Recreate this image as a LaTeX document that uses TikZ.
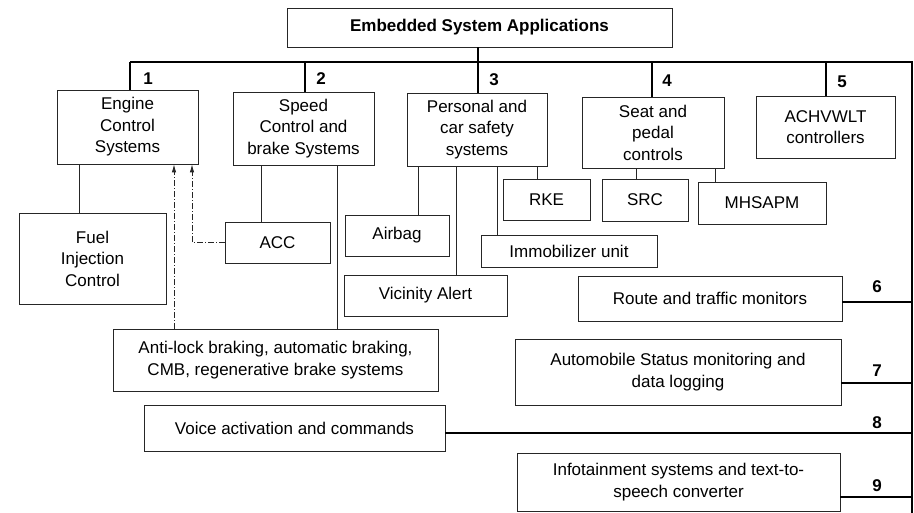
\documentclass[tikz,border=0pt]{standalone}
\usepackage{fontspec}
\setmainfont{Liberation Sans}
\usetikzlibrary{arrows.meta}
\begin{document}
\begin{tikzpicture}[x=1pt,y=-1pt,
  box/.style={draw=black!85,line width=0.8pt,inner sep=0pt,align=center,
    font=\fontsize{17}{21.5}\selectfont},
  num/.style={font=\fontsize{17}{20}\selectfont\bfseries,inner sep=0pt},
  conn/.style={draw=black!85,line width=0.8pt},
  bus/.style={draw=black,line width=1.6pt},
  arr/.style={draw=black!85,line width=0.8pt,dash pattern=on 6pt off 2pt on 1pt off 2pt,-{Latex[length=8pt,width=4.5pt]}}]
\useasboundingbox (0,0) rectangle (914,513);
% boxes
\node[box,minimum width=385pt,minimum height=39pt,font=\fontsize{17}{21.5}\selectfont\bfseries] (top) at (479.5,27.5) {Embedded System Applications};
\node[box,minimum width=141pt,minimum height=74pt] (eng) at (127.5,127) {Engine\\Control\\Systems};
\node[box,minimum width=141pt,minimum height=73pt] (spd) at (303.5,128.5) {Speed\\Control and\\brake Systems};
\node[box,minimum width=140pt,minimum height=73pt] (pers) at (477,129.5) {Personal and\\car safety\\systems};
\node[box,minimum width=142pt,minimum height=71pt] (seat) at (653,132.5) {Seat and\\pedal\\controls};
\node[box,minimum width=139pt,minimum height=62pt] (ach) at (825.5,127) {ACHVWLT\\controllers};
\node[box,minimum width=147pt,minimum height=91pt] (fuel) at (92.5,258.5) {Fuel\\Injection\\Control};
\node[box,minimum width=105pt,minimum height=41pt] (acc) at (277.5,242.5) {ACC};
\node[box,minimum width=104pt,minimum height=41pt] (airbag) at (397,235.5) {Airbag};
\node[box,minimum width=163pt,minimum height=41pt] (vic) at (425.5,295.5) {Vicinity Alert};
\node[box,minimum width=87pt,minimum height=41pt] (rke) at (546.5,199.5) {RKE};
\node[box,minimum width=86pt,minimum height=42pt] (src) at (645,200) {SRC};
\node[box,minimum width=128pt,minimum height=42pt] (mhs) at (762,203) {MHSAPM};
\node[box,minimum width=176pt,minimum height=32pt] (imm) at (569,251) {Immobilizer unit};
\node[box,minimum width=264pt,minimum height=45pt] (route) at (710,298.5) {Route and traffic monitors};
\node[box,minimum width=326pt,minimum height=66pt] (auto) at (678,372) {Automobile Status monitoring and\\data logging};
\node[box,minimum width=323pt,minimum height=58pt] (info) at (678.5,482) {Infotainment systems and text-to-\\speech converter};
\node[box,minimum width=325pt,minimum height=62pt] (abs) at (275.5,360) {Anti-lock braking, automatic braking,\\CMB, regenerative brake systems};
\node[box,minimum width=301pt,minimum height=46pt] (voice) at (294.5,428) {Voice activation and commands};
% bus coordinates
\coordinate (b0) at (478,62);
\coordinate (b1) at (130,62);
\coordinate (b2) at (305,62);
\coordinate (b3) at (478,62);
\coordinate (b4) at (652,62);
\coordinate (b5) at (826,62);
\coordinate (bR) at (912,62);
\coordinate (bEnd) at (912,513);
\draw[bus] (top.south -| b0) -- (b0);
\draw[bus] (b1) -- (bR) -- (bEnd);
\draw[bus] (b1) -- (b1 |- eng.north);
\draw[bus] (b2) -- (b2 |- spd.north);
\draw[bus] (b3) -- (b3 |- pers.north);
\draw[bus] (b4) -- (b4 |- seat.north);
\draw[bus] (b5) -- (b5 |- ach.north);
% numbers
\node[num] (n1) at (148,79) {1};
\node[num] (n2) at (321,79) {2};
\node[num] (n3) at (494,80) {3};
\node[num] (n4) at (667,81) {4};
\node[num] (n5) at (842,82) {5};
\node[num] (n6) at (877,287) {6};
\node[num] (n7) at (877,371) {7};
\node[num] (n8) at (877,423) {8};
\node[num] (n9) at (877,486) {9};
% right branches
\draw[bus,line width=1.3pt] ([yshift=-3.5pt]route.east) -- ([yshift=-3.5pt]route.east -| bR);
\draw[bus,line width=1.3pt] ([yshift=-11pt]auto.east) -- ([yshift=-11pt]auto.east -| bR);
\draw[bus,line width=1.3pt] ([yshift=-5pt]voice.east) -- ([yshift=-5pt]voice.east -| bR);
\draw[bus,line width=1.3pt] ([yshift=-15pt]info.east) -- ([yshift=-15pt]info.east -| bR);
% sub connectors
\coordinate (x1) at (79,0);
\coordinate (x2) at (261,0);
\coordinate (x3) at (337,0);
\coordinate (x4) at (418,0);
\coordinate (x5) at (456,0);
\coordinate (x6) at (497,0);
\coordinate (x7) at (537,0);
\coordinate (x8) at (636,0);
\coordinate (x9) at (715,0);
\coordinate (a1) at (174,0);
\coordinate (a2) at (192,0);
\draw[conn] (eng.south -| x1) -- (fuel.north -| x1);
\draw[conn] (spd.south -| x2) -- (acc.north -| x2);
\draw[conn] (spd.south -| x3) -- (abs.north -| x3);
\draw[conn] (pers.south -| x4) -- (airbag.north -| x4);
\draw[conn] (pers.south -| x5) -- (vic.north -| x5);
\draw[conn] (pers.south -| x6) -- (imm.north -| x6);
\draw[conn] (pers.south -| x7) -- (rke.north -| x7);
\draw[conn] (seat.south -| x8) -- (src.north -| x8);
\draw[conn] (seat.south -| x9) -- (mhs.north -| x9);
\draw[arr] (abs.north -| a1) -- (eng.south -| a1);
\draw[arr] (acc.west) -- (acc.west -| a2) -- (eng.south -| a2);
\end{tikzpicture}
\end{document}
